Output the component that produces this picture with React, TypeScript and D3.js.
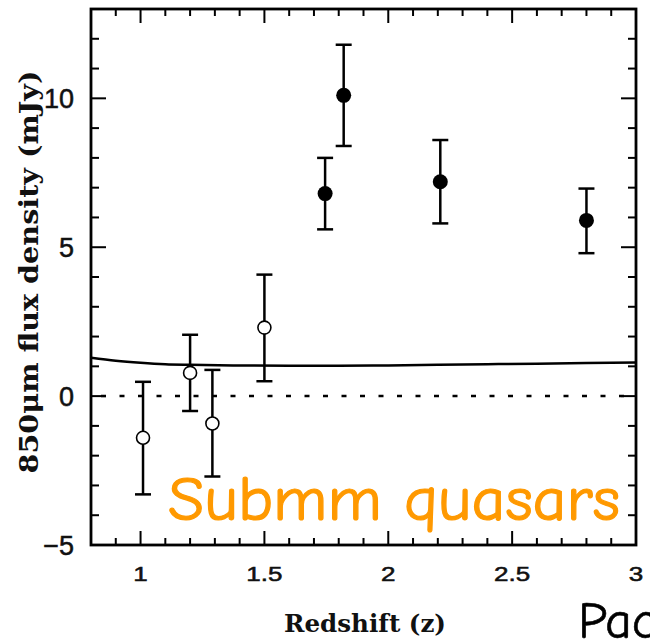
import React from "react";
import * as d3 from "d3";

const openZ = [1.01, 1.2, 1.29, 1.5];
const openF = [-1.4, 0.78, -0.92, 2.3];
const openLo = [-3.3, -0.5, -2.7, 0.5];
const openHi = [0.48, 2.06, 0.88, 4.08];

const fillZ = [1.745, 1.82, 2.21, 2.8];
const fillF = [6.8, 10.1, 7.2, 5.9];
const fillLo = [5.6, 8.4, 5.8, 4.8];
const fillHi = [8.0, 11.8, 8.6, 6.97];

const curveZ = [0.8, 0.9, 1.0, 1.1, 1.2, 1.4, 1.6, 1.8, 2.0, 2.2, 2.4, 2.6, 2.8, 3.0];
const curveF = [1.29, 1.19, 1.12, 1.07, 1.05, 1.03, 1.02, 1.02, 1.03, 1.05, 1.07, 1.09, 1.11, 1.13];

const xMajor = [1, 1.5, 2, 2.5, 3];
const xLabels = ["1", "1.5", "2", "2.5", "3"];
const yMajor = [-5, 0, 5, 10];
const yLabels = ["\u22125", "0", "5", "10"];

export default function App() {
  const W = 650, H = 642;
  const L = 91, R = 636, T = 9, B = 545;
  const x = d3.scaleLinear().domain([0.8, 3]).range([L, R]);
  const y = d3.scaleLinear().domain([-5, 13]).range([B, T]);

  const xMinor = d3.range(8, 31).map((v) => v / 10);
  const yMinor = d3.range(-5, 14);

  const line = d3
    .line<number>()
    .x((_, i) => x(curveZ[i]))
    .y((d) => y(d))
    .curve(d3.curveMonotoneX);

  const isMajorX = (v: number) => Math.abs(v * 2 - Math.round(v * 2)) < 1e-6;
  const isMajorY = (v: number) => v % 5 === 0;

  const sw = 2.5;
  const cap = 8;
  const tickFont = "'Liberation Sans', Arial, sans-serif";
  const serifBold = "'DejaVu Serif', serif";
  const comic = "'Comic Sans MS', 'Comic Neue', 'Open Sans', sans-serif";

  return (
    <svg
      width={W}
      height={H}
      style={{ position: "absolute", left: 0, top: 0, background: "#fff" }}
    >
      <rect x={0} y={0} width={W} height={H} fill="#fff" />
      {/* ticks */}
      {xMinor.map((v, i) => {
        const len = isMajorX(v) ? 14 : 7;
        const px = x(v);
        return (
          <g key={"xt" + i} stroke="#000" strokeWidth={2}>
            <line x1={px} x2={px} y1={B} y2={B - len} />
            <line x1={px} x2={px} y1={T} y2={T + len} />
          </g>
        );
      })}
      {yMinor.map((v, i) => {
        const len = isMajorY(v) ? 15 : 8;
        const py = y(v);
        return (
          <g key={"yt" + i} stroke="#000" strokeWidth={2}>
            <line x1={L} x2={L + len} y1={py} y2={py} />
            <line x1={R} x2={R - len} y1={py} y2={py} />
          </g>
        );
      })}
      {/* zero dotted line */}
      <line
        x1={L}
        x2={R}
        y1={y(0)}
        y2={y(0)}
        stroke="#000"
        strokeWidth={2.5}
        strokeDasharray="5 13.5"
        strokeDashoffset={-10}
      />
      {/* model curve */}
      <path d={line(curveF) || ""} fill="none" stroke="#000" strokeWidth={2.5} />
      {/* open points */}
      {openZ.map((z, i) => (
        <g key={"o" + i} stroke="#000" strokeWidth={sw}>
          <line x1={x(z)} x2={x(z)} y1={y(openLo[i])} y2={y(openHi[i])} />
          <line x1={x(z) - cap} x2={x(z) + cap} y1={y(openLo[i])} y2={y(openLo[i])} />
          <line x1={x(z) - cap} x2={x(z) + cap} y1={y(openHi[i])} y2={y(openHi[i])} />
          <circle cx={x(z)} cy={y(openF[i])} r={6.5} fill="#fff" strokeWidth={1.6} />
        </g>
      ))}
      {/* filled points */}
      {fillZ.map((z, i) => (
        <g key={"f" + i} stroke="#000" strokeWidth={sw}>
          <line x1={x(z)} x2={x(z)} y1={y(fillLo[i])} y2={y(fillHi[i])} />
          <line x1={x(z) - cap} x2={x(z) + cap} y1={y(fillLo[i])} y2={y(fillLo[i])} />
          <line x1={x(z) - cap} x2={x(z) + cap} y1={y(fillHi[i])} y2={y(fillHi[i])} />
          <circle cx={x(z)} cy={y(fillF[i])} r={7.5} fill="#000" stroke="none" />
        </g>
      ))}
      {/* frame */}
      <rect x={L} y={T} width={R - L} height={B - T} fill="none" stroke="#000" strokeWidth={2.8} />
      {/* tick labels */}
      {xMajor.map((v, i) => (
        <text
          key={"xl" + i}
          transform={`translate(${x(v)},581) scale(1,0.78)`}
          textAnchor="middle"
          fontFamily={tickFont}
          fontSize={26}
          fill="#111"
          stroke="#111"
          strokeWidth={0.7}
        >
          {xLabels[i]}
        </text>
      ))}
      {yMajor.map((v, i) => (
        <text
          key={"yl" + i}
          x={74}
          y={y(v) + 10}
          textAnchor="end"
          fontFamily={tickFont}
          fontSize={27}
          fill="#111"
          stroke="#111"
          strokeWidth={0.5}
        >
          {yLabels[i]}
        </text>
      ))}
      {/* axis titles */}
      <text
        transform="translate(365,632) scale(1,1.15)"
        textAnchor="middle"
        fontFamily={serifBold}
        fontWeight="bold"
        fontSize={21}
        textLength={162}
        lengthAdjust="spacingAndGlyphs"
        fill="#111"
      >
        Redshift (z)
      </text>
      <text
        transform="translate(38,272) rotate(-90)"
        textAnchor="middle"
        fontFamily={serifBold}
        fontWeight="bold"
        fontSize={26}
        textLength={403}
        lengthAdjust="spacingAndGlyphs"
        fill="#111"
      >
        850μm flux density (mJy)
      </text>
      {/* overlay text */}
      <text
        x={168}
        y={520}
        fontFamily={comic}
        fontSize={63}
        textLength={452}
        lengthAdjust="spacingAndGlyphs"
        fill="#ff9900"
        stroke="#ff9900"
        strokeWidth={1.2}
      >
        Submm quasars
      </text>
      <text
        x={578}
        y={638}
        fontFamily={comic}
        fontSize={52}
        fill="#000"
        stroke="#000"
        strokeWidth={0.6}
      >
        Pac
      </text>
    </svg>
  );
}
